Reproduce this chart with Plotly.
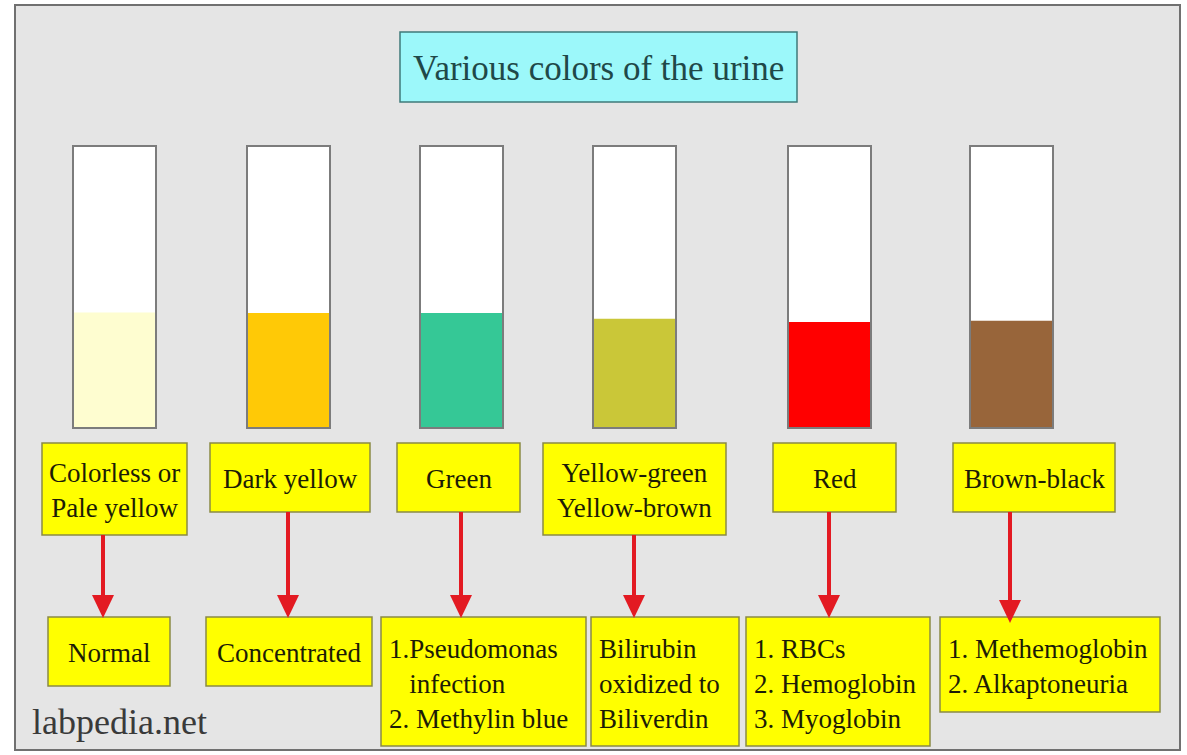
import plotly.graph_objects as go

# ---------------- data ----------------
color_labels = ["Colorless or<br>Pale yellow", "Dark yellow", "Green",
                "Yellow-green<br>Yellow-brown", "Red", "Brown-black"]
urine_colors = ["#FEFDD0", "#FFC906", "#35C896", "#CAC738", "#FF0000", "#98653A"]
fill_levels = [0.41, 0.408, 0.408, 0.387, 0.376, 0.38]
causes = [
    "Normal",
    "Concentrated",
    "1.Pseudomonas<br>\u00a0\u00a0\u00a0infection<br>2. Methylin blue",
    "Bilirubin<br>oxidized to<br>Biliverdin",
    "1. RBCs<br>2. Hemoglobin<br>3. Myoglobin",
    "1. Methemoglobin<br>2. Alkaptoneuria",
]
title_text = "Various colors of the urine"
credit_text = "labpedia.net"

# ---------------- layout (pixel coordinates) ----------------
W, H = 1187, 755
tube_left = [73, 247, 420, 593, 788, 970]
tube_w = 83
tube_top, tube_bottom = 146, 428
tube_h = tube_bottom - tube_top
tube_cx = [l + tube_w / 2 for l in tube_left]

upper_boxes = [(42, 187, 443, 535), (210, 370, 443, 512), (397, 520, 443, 512),
               (543, 726, 443, 535), (773, 896, 443, 512), (953, 1115, 443, 512)]
lower_boxes = [(48, 170, 617, 686), (206, 372, 617, 686), (381, 586, 617, 746),
               (591, 739, 617, 746), (746, 930, 617, 746), (940, 1160, 617, 712)]
lower_align = ["center", "center", "left", "left", "left", "left"]
arrow_x = [103, 288, 461, 634, 829, 1010]
arrow_tip = [618, 618, 618, 618, 618, 623]

BOX_FILL = "#FFFF00"
BOX_LINE = "#8A8A45"
TEXT_COL = "#1C1C06"
ARROW_COL = "#E31A22"
FONT = "Liberation Serif, Times New Roman, serif"

fig = go.Figure()

# tubes: white glass, urine fill, outline
fig.add_trace(go.Bar(x=tube_cx, y=[-tube_h] * 6, base=[tube_bottom] * 6, width=tube_w,
                     marker=dict(color="white", line=dict(width=0)), hoverinfo="skip"))
fig.add_trace(go.Bar(x=tube_cx, y=[-f * tube_h for f in fill_levels], base=[tube_bottom] * 6,
                     width=tube_w, marker=dict(color=urine_colors, line=dict(width=0)),
                     hoverinfo="skip"))
fig.add_trace(go.Bar(x=tube_cx, y=[-tube_h] * 6, base=[tube_bottom] * 6, width=tube_w,
                     marker=dict(color="rgba(0,0,0,0)", line=dict(width=2, color="#7C7C7C")),
                     hoverinfo="skip"))

shapes = []
# background frame
shapes.append(dict(type="rect", xref="x", yref="y", x0=15, x1=1180, y0=5, y1=750,
                   fillcolor="#E5E5E5", line=dict(color="#707070", width=2), layer="below"))
# title box
shapes.append(dict(type="rect", xref="x", yref="y", x0=400, x1=797, y0=32, y1=102,
                   fillcolor="#9CF8FA", line=dict(color="#3F7A7A", width=1.5)))

annotations = [
    dict(x=598.5, y=68, xref="x", yref="y", text=title_text, showarrow=False,
         font=dict(family=FONT, size=35, color="#1F4848"), xanchor="center", yanchor="middle"),
    dict(x=30, y=722, xref="x", yref="y", text=credit_text, showarrow=False,
         font=dict(family=FONT, size=36, color="#3A3A3A"), xanchor="left", yanchor="middle"),
]

for i in range(6):
    ux0, ux1, uy0, uy1 = upper_boxes[i]
    lx0, lx1, ly0, ly1 = lower_boxes[i]
    shapes.append(dict(type="rect", xref="x", yref="y", x0=ux0, x1=ux1, y0=uy0, y1=uy1,
                       fillcolor=BOX_FILL, line=dict(color=BOX_LINE, width=1.5)))
    shapes.append(dict(type="rect", xref="x", yref="y", x0=lx0, x1=lx1, y0=ly0, y1=ly1,
                       fillcolor=BOX_FILL, line=dict(color=BOX_LINE, width=1.5)))
    # arrow shaft + head
    ax = arrow_x[i]
    tip = arrow_tip[i]
    head_base = tip - 23
    shapes.append(dict(type="line", xref="x", yref="y", x0=ax, x1=ax, y0=uy1, y1=head_base + 2,
                       line=dict(color=ARROW_COL, width=4)))
    shapes.append(dict(type="path", xref="x", yref="y",
                       path=f"M {ax-11},{head_base} L {ax+11},{head_base} L {ax},{tip} Z",
                       fillcolor=ARROW_COL, line=dict(width=0)))
    annotations.append(dict(x=(ux0 + ux1) / 2, y=(uy0 + uy1) / 2 + 1, xref="x", yref="y",
                            text=color_labels[i], showarrow=False, align="center",
                            font=dict(family=FONT, size=27, color=TEXT_COL),
                            xanchor="center", yanchor="middle"))
    if lower_align[i] == "center":
        annotations.append(dict(x=(lx0 + lx1) / 2, y=(ly0 + ly1) / 2 + 1, xref="x", yref="y",
                                text=causes[i], showarrow=False, align="center",
                                font=dict(family=FONT, size=27, color=TEXT_COL),
                                xanchor="center", yanchor="middle"))
    else:
        annotations.append(dict(x=lx0 + 6, y=(ly0 + ly1) / 2 + 2, xref="x", yref="y",
                                text=causes[i], showarrow=False, align="left",
                                font=dict(family=FONT, size=27, color=TEXT_COL),
                                xanchor="left", yanchor="middle"))

fig.update_layout(
    width=W, height=H, margin=dict(l=0, r=0, t=0, b=0),
    paper_bgcolor="white", plot_bgcolor="rgba(0,0,0,0)",
    barmode="overlay", showlegend=False,
    xaxis=dict(range=[0, W], visible=False, fixedrange=True),
    yaxis=dict(range=[H, 0], visible=False, fixedrange=True),
    shapes=shapes, annotations=annotations,
)

fig.write_html("out.html", config={"displayModeBar": False},
               post_script="document.body.style.margin='0';document.body.style.overflow='hidden';")
